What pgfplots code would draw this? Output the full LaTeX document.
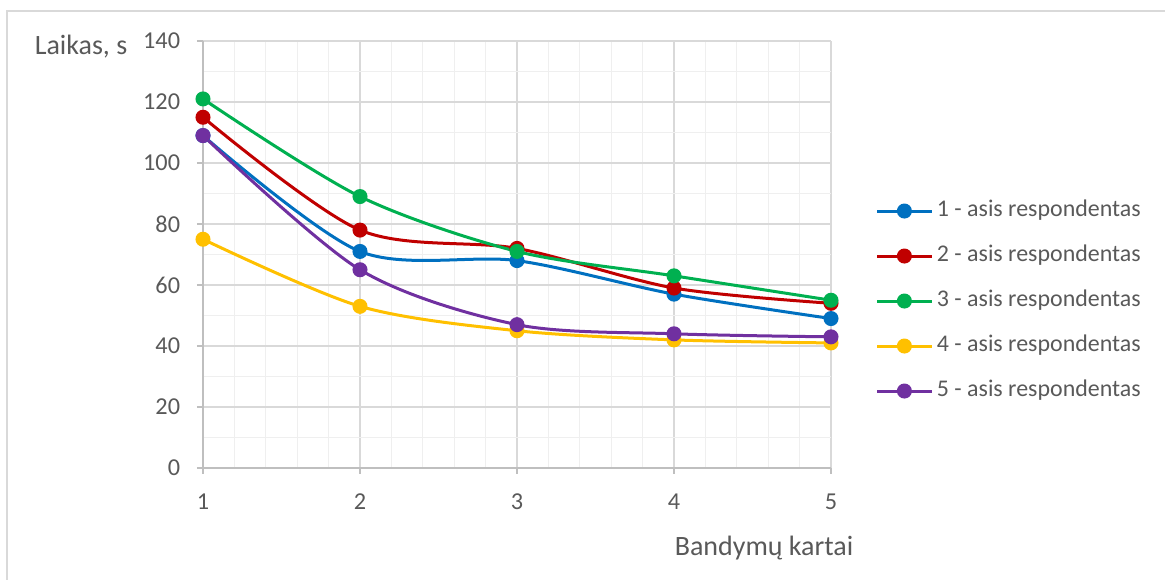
\documentclass[border=0pt]{standalone}
\usepackage{fontspec}
\setmainfont{Carlito}
\usepackage{pgfplots}
\pgfplotsset{compat=1.18}
\definecolor{sA}{HTML}{0070C0}
\definecolor{sB}{HTML}{C00000}
\definecolor{sC}{HTML}{00B050}
\definecolor{sD}{HTML}{FFC000}
\definecolor{sE}{HTML}{7030A0}
\definecolor{txt}{HTML}{595959}
\definecolor{axc}{HTML}{BFBFBF}
\definecolor{majg}{HTML}{D9D9D9}
\definecolor{ming}{HTML}{EFEFEF}
\begin{document}
\begin{tikzpicture}
\useasboundingbox (0,0) rectangle (873.75pt,435pt);
\draw[majg, line width=0.9pt] (5.25pt,0pt) -- (5.25pt,426.75pt) -- (873.75pt,426.75pt);
\begin{axis}[
  at={(152.25pt,84pt)}, anchor=south west,
  scale only axis, width=471pt, height=320.25pt,
  xmin=1, xmax=5, ymin=0, ymax=140,
  xtick={1,2,3,4,5}, ytick={0,20,...,140},
  minor x tick num=4, minor y tick num=1,
  grid=both,
  major grid style={majg, line width=1.2pt},
  minor grid style={ming, line width=0.9pt},
  axis x line=bottom, axis y line=left,
  axis line style={axc, line width=1.2pt, -},
  tick align=outside, major tick length=4.5pt, minor tick length=0pt,
  major tick style={axc, line width=1.2pt},
  /pgf/number format/assume math mode=true,
  ticklabel style={font=\fontsize{18.2}{21}\selectfont, text=txt},
  yticklabel style={inner sep=0pt, xshift=-12.5pt},
  xticklabel style={inner sep=0pt, yshift=-14.5pt},
  every axis plot/.append style={line width=2.25pt, smooth, mark=*, mark size=4.5pt, mark options={solid}},
  legend style={draw=none, fill=none, at={(1.0715,0.391)}, anchor=west,
    font=\fontsize{17.95}{21}\selectfont, text=txt,
    row sep=17.75pt, column sep=3pt, inner sep=0pt, outer sep=0pt,
    nodes={inner sep=0pt, text height=12pt, text depth=4pt}},
  legend cell align=left,
  legend image code/.code={\draw[mark repeat=2,mark phase=2,#1] plot coordinates {(0pt,0pt) (20.25pt,0pt) (40.5pt,0pt)};},
]
\addplot[sA] coordinates {(1,109) (2,71) (3,68) (4,57) (5,49)};
\addlegendentry{1 - asis respondentas}
\addplot[sB] coordinates {(1,115) (2,78) (3,72) (4,59) (5,54)};
\addlegendentry{2 - asis respondentas}
\addplot[sC] coordinates {(1,121) (2,89) (3,71) (4,63) (5,55)};
\addlegendentry{3 - asis respondentas}
\addplot[sD] coordinates {(1,75) (2,53) (3,45) (4,42) (5,41)};
\addlegendentry{4 - asis respondentas}
\addplot[sE] coordinates {(1,109) (2,65) (3,47) (4,44) (5,43)};
\addlegendentry{5 - asis respondentas}
\end{axis}
\node[font=\fontsize{21}{24}\selectfont, text=txt, inner sep=0pt] at (60.75pt,399.75pt) {Laikas, s};
\node[font=\fontsize{21}{24}\selectfont, text=txt, inner sep=0pt] at (573pt,24pt) {Bandymų kartai};
\end{tikzpicture}
\end{document}
